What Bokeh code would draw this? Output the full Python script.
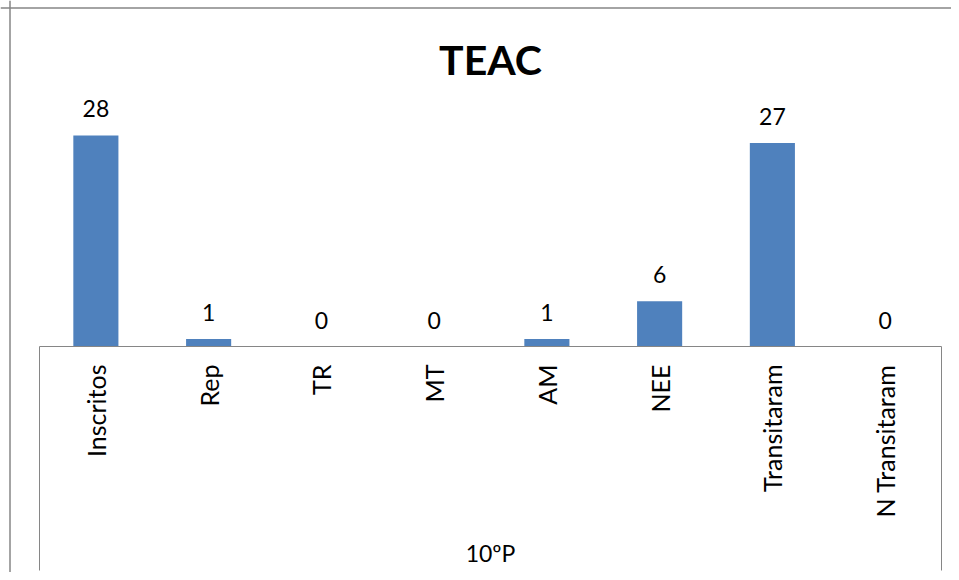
import math
from bokeh.plotting import figure
from bokeh.models import Range1d, LinearAxis, FixedTicker, Span, Label
from bokeh.core.properties import value
from bokeh.embed import file_html
from bokeh.resources import INLINE

title_text = "TEAC"
group_label = "10ºP"
categories = ["Inscritos", "Rep", "TR", "MT", "AM", "NEE", "Transitaram", "N Transitaram"]
values = [28, 1, 0, 0, 1, 6, 27, 0]

FONT = "Lato"
BAR_COLOR = "#4F81BD"
LINE_COLOR = "#868686"

n = len(categories)
xs = [i + 0.5 for i in range(n)]
labels = [str(v) for v in values]

W, H = 951, 572
px_per_cat = 112.75
px_per_unit = 7.54
x_left_px = 39
axis_px = 346

x_range = Range1d(-x_left_px / px_per_cat, (W - x_left_px) / px_per_cat)
y_range = Range1d(-(H - axis_px) / px_per_unit, axis_px / px_per_unit)

p = figure(width=W, height=H, x_range=x_range, y_range=y_range,
           output_backend="svg", toolbar_location=None,
           x_axis_location=None, y_axis_location=None,
           min_border=0, outline_line_color=None)
p.grid.visible = False

p.vbar(x=xs, top=values, bottom=0, width=0.4, fill_color=BAR_COLOR, line_color=None)

p.text(x=xs, y=values, text=labels, text_align="center", text_baseline="middle",
       y_offset=-26.5, text_font=value(FONT), text_font_size="23px", text_color="black")

ax = LinearAxis(fixed_location=0, bounds=(0, n),
                ticker=FixedTicker(ticks=xs),
                major_label_overrides={x: c for x, c in zip(xs, categories)},
                major_label_orientation=math.pi / 2,
                major_tick_line_color=None, minor_tick_line_color=None,
                major_tick_out=0, major_tick_in=0, minor_tick_out=0, minor_tick_in=0,
                axis_line_color=LINE_COLOR, axis_line_width=1,
                major_label_standoff=18,
                major_label_text_font=FONT, major_label_text_font_size="25px",
                major_label_text_color="black",
                axis_label=group_label, axis_label_text_font=FONT,
                axis_label_text_font_size="23px", axis_label_text_font_style="normal",
                axis_label_text_color="black", axis_label_standoff=19)
p.add_layout(ax, "below")

# group boundary lines below the axis
p.segment(x0=[0, n], y0=[0, 0], x1=[0, n], y1=[-224 / px_per_unit] * 2,
          line_color=LINE_COLOR, line_width=1)

# chart-area border (left and top)
p.add_layout(Span(location=x_range.start + 9.5 / px_per_cat, dimension="height",
                  line_color=LINE_COLOR, line_width=1.5))
p.add_layout(Span(location=y_range.end - 7.5 / px_per_unit, dimension="width",
                  line_color=LINE_COLOR, line_width=1.5))

p.add_layout(Label(x=n / 2, y=(axis_px - 58.5) / px_per_unit, text=title_text,
                   text_align="center", text_baseline="middle",
                   text_font=FONT, text_font_size="41px", text_font_style="bold",
                   text_color="black"))

open("out.html", "w").write(file_html(p, INLINE))
